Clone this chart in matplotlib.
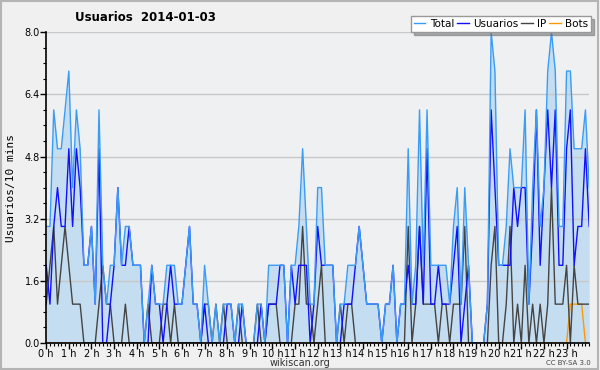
import numpy as np
import matplotlib
matplotlib.use("Agg")
import matplotlib.pyplot as plt
from matplotlib.patches import Rectangle

# valores cada 10 minutos (0 h -> 24 h)
total = [3, 3, 6, 5, 5, 6, 7, 4, 6, 5,
         2, 2, 3, 1, 6, 2, 1, 2, 2, 4,
         2, 3, 3, 2, 2, 2, 0, 1, 2, 1,
         1, 1, 2, 2, 2, 1, 1, 2, 3, 1,
         1, 0, 2, 1, 0, 1, 0, 1, 1, 1,
         0, 1, 1, 0, 0, 0, 1, 1, 0, 2,
         2, 2, 2, 2, 0, 2, 2, 3, 5, 3,
         1, 1, 4, 4, 2, 2, 2, 0, 1, 1,
         2, 2, 2, 3, 2, 1, 1, 1, 1, 0,
         1, 1, 2, 0, 1, 1, 5, 1, 2, 6,
         2, 6, 2, 2, 2, 2, 2, 1, 3, 4,
         1, 4, 2, 0, 0, 0, 0, 1, 8, 7,
         2, 2, 3, 5, 4, 4, 4, 6, 1, 4,
         6, 3, 4, 7, 8, 7, 3, 3, 7, 7,
         5, 5, 5, 6, 4]
usuarios = [2, 1, 3, 4, 3, 3, 5, 3, 5, 4,
            2, 2, 3, 1, 5, 0, 0, 1, 2, 4,
            2, 2, 3, 2, 2, 2, 0, 0, 2, 1,
            1, 0, 1, 2, 1, 1, 1, 2, 3, 1,
            1, 0, 1, 0, 0, 0, 0, 0, 1, 1,
            0, 0, 1, 0, 0, 0, 0, 1, 0, 1,
            1, 1, 2, 2, 0, 2, 1, 2, 2, 2,
            0, 1, 3, 2, 2, 2, 2, 0, 0, 1,
            1, 1, 2, 3, 2, 1, 1, 1, 1, 0,
            1, 1, 2, 0, 1, 1, 2, 1, 1, 3,
            1, 5, 1, 1, 2, 1, 1, 1, 2, 3,
            0, 1, 2, 0, 0, 0, 0, 1, 6, 4,
            2, 2, 2, 2, 4, 3, 4, 4, 1, 3,
            6, 2, 4, 6, 4, 6, 2, 2, 5, 6,
            2, 3, 3, 5, 3]
ip = [1, 2, 3, 1, 2, 3, 2, 1, 1, 1,
      0, 0, 0, 0, 1, 2, 1, 1, 0, 0,
      0, 1, 0, 0, 0, 0, 0, 1, 0, 0,
      0, 1, 1, 0, 1, 0, 0, 0, 0, 0,
      0, 0, 1, 1, 0, 1, 0, 1, 0, 0,
      0, 1, 0, 0, 0, 0, 1, 0, 0, 1,
      1, 1, 0, 0, 0, 0, 1, 1, 3, 1,
      1, 0, 1, 2, 0, 0, 0, 0, 1, 0,
      1, 1, 0, 0, 0, 0, 0, 0, 0, 0,
      0, 0, 0, 0, 0, 0, 3, 0, 1, 3,
      1, 1, 1, 1, 0, 1, 1, 0, 1, 1,
      1, 3, 0, 0, 0, 0, 0, 0, 2, 3,
      0, 0, 1, 3, 0, 1, 0, 2, 0, 1,
      0, 1, 0, 1, 4, 1, 1, 1, 2, 0,
      2, 1, 1, 1, 1]
bots = [0] * 139 + [1, 1, 1, 1, 0, 0]

horas = np.arange(len(total)) / 6.0
hora_labels = ['%d h' % h for h in range(24)]

plt.rcParams['font.family'] = ['Liberation Sans Narrow', 'DejaVu Sans']

fig = plt.figure(figsize=(6, 3.7), dpi=100, facecolor='#f0f0f0')
fig.patches.append(Rectangle((0.002, 0.003), 0.995, 0.993, transform=fig.transFigure,
                             fill=False, edgecolor='#b4b4b4', linewidth=1.5))
ax = fig.add_axes([0.077, 0.073, 0.905, 0.84])
ax.set_facecolor('#eef0f2')

ax.fill_between(horas, total, 0, color='#c5ddf0', linewidth=0, zorder=1)
ax.plot(horas, bots, color='#ff9900', lw=1, label='Bots', zorder=2)
ax.plot(horas, ip, color='#444444', lw=1, label='IP', zorder=3)
ax.plot(horas, usuarios, color='#1010ff', lw=1, label='Usuarios', zorder=4)
ax.plot(horas, total, color='#3a9cf5', lw=1, label='Total', zorder=5)

ax.set_xlim(0, 24)
ax.set_ylim(0, 8)
ax.set_yticks(np.arange(0, 8.01, 1.6))
ax.set_yticklabels(['%.1f' % v for v in np.arange(0, 8.01, 1.6)])
ax.set_yticks(np.arange(0, 8.01, 0.4), minor=True)
ax.set_xticks(range(24))
ax.set_xticklabels(hora_labels)
ax.set_xticks(np.arange(0, 24.01, 1 / 6.0), minor=True)
ax.tick_params(labelsize=7, length=4, width=1, color='black', pad=0.5)
ax.tick_params(which='minor', length=2.5, width=0.8)
ax.grid(axis='y', color='#c8c8c8', lw=1)
ax.set_axisbelow(False)
for s in ['top', 'right']:
    ax.spines[s].set_visible(False)
for s in ['left', 'bottom']:
    ax.spines[s].set_linewidth(1.2)
    ax.spines[s].set_zorder(10)
for gl in ax.get_ygridlines():
    gl.set_zorder(0.5)

ax.set_ylabel('Usuarios/10 mins', family='DejaVu Sans Mono', fontsize=8, labelpad=6)

h, l = ax.get_legend_handles_labels()
orden = [3, 2, 1, 0]
leg = fig.legend([h[i] for i in orden], [l[i] for i in orden], ncol=4,
                 loc='upper right', bbox_to_anchor=(0.985, 0.957), fontsize=7.5,
                 frameon=True, fancybox=False, shadow={'color': '#666666'},
                 handlelength=1.1, handletextpad=0.4, columnspacing=0.3,
                 borderpad=0.3, edgecolor='#999999', borderaxespad=0)
leg.get_frame().set_linewidth(1)

fig.text(0.125, 0.953, 'Usuarios  2014-01-03', fontsize=8.5, fontweight='bold', va='center')
fig.text(0.5, 0.018, 'wikiscan.org', fontsize=7, ha='center', va='center', color='#333333')
fig.text(0.985, 0.018, 'CC BY-SA 3.0', fontsize=5, ha='right', va='center', color='#444444')

fig.savefig('out.png', dpi=100, facecolor=fig.get_facecolor())
